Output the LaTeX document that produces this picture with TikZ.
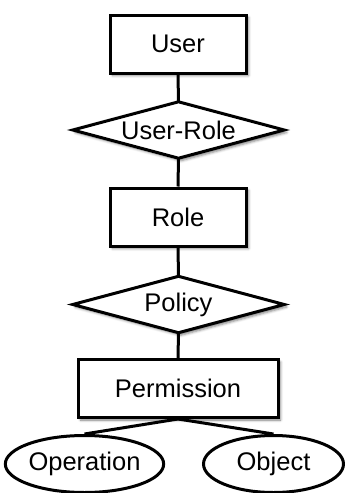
\documentclass[tikz,border=0pt]{standalone}
\usepackage{fontspec}
\setmainfont{Liberation Sans}
\usetikzlibrary{shapes.geometric,shadows.blur}
\tikzset{
  lbl/.style={font=\fontsize{25.5}{30}\selectfont},
  soft/.style={blur shadow={shadow xshift=2.5pt, shadow yshift=-2.5pt, shadow blur radius=2.5pt, shadow opacity=50}},
  entity/.style={draw, fill=white, rectangle, line width=3pt, inner sep=0pt, minimum height=58pt, lbl, soft},
  relslot/.style={rectangle, inner sep=0pt, minimum width=211pt, minimum height=56pt, lbl},
  relshape/.style={draw, fill=white, line width=3pt, line join=miter, soft},
  attr/.style={draw, fill=white, ellipse, line width=3pt, inner sep=0pt, minimum height=57pt, lbl},
  link/.style={line width=3pt}
}
\begin{document}
\begin{tikzpicture}[x=1pt, y=-1pt]
\useasboundingbox (0,0) rectangle (345,493);

% relationship diamonds (outline drawn first, label placed on top)
\node[relslot] (ur) at (178.5,130) {};
\path[relshape] (ur.north) -- (ur.east) -- (ur.south) -- (ur.west) -- cycle;
\node[relslot] at (ur.center) {User-Role};

\node[relslot] (pol) at (178.5,304.5) {};
\path[relshape] (pol.north) -- (pol.east) -- (pol.south) -- (pol.west) -- cycle;
\node[relslot] at (pol.center) {Policy};

% entities
\node[entity, minimum width=136pt] (user) at (178,44) {User};
\node[entity, minimum width=136pt] (role) at (178,217) {Role};
\node[entity, minimum width=200pt] (perm) at (178,388.5) {Permission};

% attributes
\node[attr, minimum width=148pt] (op) at (84.5,464) {Operation};
\node[attr, minimum width=140pt] (obj) at (273.5,464) {Object};

% connectors
\draw[link] (user.south) -- (ur.north);
\draw[link] (ur.south) -- (role.north);
\draw[link] (role.south) -- (pol.north);
\draw[link] (pol.south) -- (perm.north);
\draw[link] (perm.south) -- (op.north);
\draw[link] (perm.south) -- (obj.north);
\end{tikzpicture}
\end{document}
